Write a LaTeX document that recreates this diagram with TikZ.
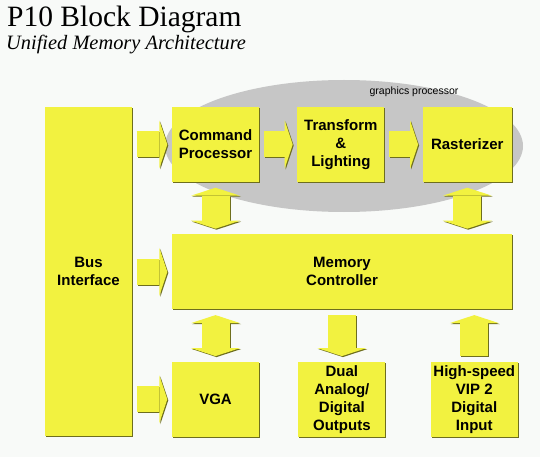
\documentclass[tikz,border=0pt]{standalone}
\usepackage{fontspec}
\setmainfont{Liberation Serif}
\setsansfont{Liberation Sans}
\usetikzlibrary{arrows.meta, positioning, shapes.geometric, shadows}
\definecolor{chip}{HTML}{F2F240}
\definecolor{chipedge}{HTML}{6E6E1E}
\definecolor{paper}{HTML}{F8FAF8}
\definecolor{gpuzone}{HTML}{C6C6C6}

% fat yellow arrow with a thin dark edge below/right
\newcommand{\fatlink}[3]{%
  \draw[#1, draw=chipedge, transform canvas={shift={(1pt,-1pt)}}] #2 -- #3;
  \draw[#1] #2 -- #3;}

\begin{document}
\begin{tikzpicture}[
    x=1pt, y=-1pt,
    blk/.style={
      rectangle, fill=chip, inner sep=0pt, align=center,
      minimum width=87pt, minimum height=75pt,
      font=\sffamily\bfseries\fontsize{15}{18}\selectfont,
      drop shadow={shadow xshift=1pt, shadow yshift=-1pt,
        fill=chipedge, opacity=1}},
    flow/.style={
      line width=26pt, draw=chip, shorten <=4.5pt, shorten >=4.5pt,
      -{Triangle[length=8pt, width=48pt, line width=0pt]}},
    vflow/.style={
      line width=28pt, draw=chip, shorten <=5.5pt, shorten >=5.5pt,
      -{Triangle[length=8pt, width=49pt, line width=0pt]}},
    dflow/.style={
      vflow,
      {Triangle[length=8pt, width=49pt, line width=0pt]}-{Triangle[length=8pt, width=49pt, line width=0pt]}},
  ]

  \path[fill=paper, use as bounding box] (0,0) rectangle (540,457);

  % ── Heading ──
  \node[anchor=base west, inner sep=0pt,
        font=\fontsize{29.5}{30}\selectfont] (title) at (7,27)
    {P10 Block Diagram};
  \node[anchor=base west, inner sep=0pt,
        font=\itshape\fontsize{20.4}{22}\selectfont] (subtitle) at (6,49.5)
    {Unified Memory Architecture};

  % ── Graphics processor zone ──
  \node[ellipse, fill=gpuzone, inner sep=0pt,
        minimum width=358pt, minimum height=132pt] (gpu) at (344,146) {};
  \node[anchor=base, inner sep=0pt,
        font=\sffamily\fontsize{10.5}{12}\selectfont]
    (gpulbl) at ([xshift=70pt, yshift=-15pt]gpu.north) {graphics processor};

  % ── Blocks ──
  \node[blk, minimum height=329pt] (bus) at (88.5,271.5) {Bus\\Interface};
  \node[blk] (cmd) at (215.5,144.5) {Command\\Processor};
  \node[blk, right=38pt of cmd] (tl) {Transform\\\&\\Lighting};
  \node[blk, right=38pt of tl, minimum width=89pt] (rast) {Rasterizer};
  \node[blk, below right=52pt and 0pt of cmd.south west,
        minimum width=340pt] (mem) {Memory\\Controller};
  \node[blk, below right=52pt and 0pt of mem.south west] (vga) {VGA};
  \node[blk, right=39pt of vga] (dual) {Dual\\Analog/\\Digital\\Outputs};
  \node[blk, right=45pt of dual] (vip) {High-speed\\VIP 2\\Digital\\Input};

  % ── Connectors ──
  \fatlink{flow}{(bus.east |- cmd)}{(cmd.west)}
  \fatlink{flow}{(bus.east |- mem)}{(mem.west)}
  \fatlink{flow}{(bus.east |- vga)}{(vga.west)}
  \fatlink{flow}{(cmd.east)}{(tl.west)}
  \fatlink{flow}{(tl.east)}{(rast.west)}

  \fatlink{dflow}{(cmd.south)}{(cmd.south |- mem.north)}
  \fatlink{dflow}{(rast.south)}{(rast.south |- mem.north)}
  \fatlink{dflow}{(vga.north |- mem.south)}{(vga.north)}
  \fatlink{vflow}{(dual.north |- mem.south)}{(dual.north)}
  \fatlink{vflow}{(vip.north)}{(vip.north |- mem.south)}

\end{tikzpicture}
\end{document}
